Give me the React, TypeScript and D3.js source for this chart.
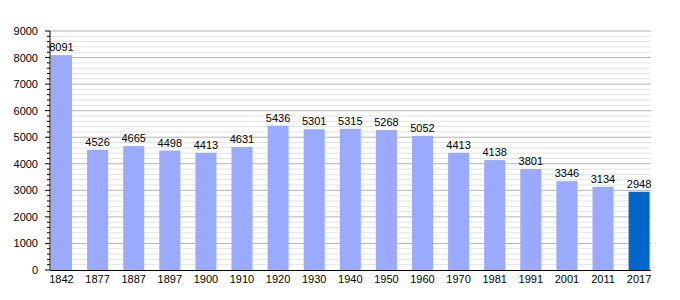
import React from "react";
import * as d3 from "d3";

const years = ["1842","1877","1887","1897","1900","1910","1920","1930","1940","1950","1960","1970","1981","1991","2001","2011","2017"];
const population = [8091,4526,4665,4498,4413,4631,5436,5301,5315,5268,5052,4413,4138,3801,3346,3134,2948];
const yTicks = [0,1000,2000,3000,4000,5000,6000,7000,8000,9000];

const W = 680, H = 300;
const left = 50, right = 651, top = 31, bottom = 270;

export default function App() {
  const x = d3.scaleBand<string>().domain(years).range([51, 649.6]).paddingInner(0.418).paddingOuter(0);
  const y = d3.scaleLinear().domain([0, 9000]).range([bottom, top]);
  const minor = d3.range(0, 9001, 200).filter(v => v % 1000 !== 0);
  const font = "'Liberation Sans', Arial, sans-serif";
  return (
    <svg width={W} height={H} style={{ position: "absolute", left: 0, top: 0 }} fontFamily={font}>
      <rect width={W} height={H} fill="#fff" />
      {minor.map(v => (
        <g key={"m" + v}>
          <line x1={left} x2={right} y1={y(v)} y2={y(v)} stroke="#e2e2e2" />
          <line x1={47} x2={left} y1={y(v)} y2={y(v)} stroke="#000" />
        </g>
      ))}
      {yTicks.map(v => (
        <g key={"t" + v}>
          {v > 0 && <line x1={left} x2={right} y1={y(v)} y2={y(v)} stroke="#b4b4b4" />}
          <line x1={45} x2={left} y1={y(v)} y2={y(v)} stroke="#000" />
          <text x={38} y={y(v) + 4} textAnchor="end" fontSize={11} fill="#000">{v}</text>
        </g>
      ))}
      {years.map((yr, i) => (
        <g key={yr}>
          <rect x={x(yr)} y={y(population[i])} width={x.bandwidth()} height={bottom - y(population[i])}
            fill={i === years.length - 1 ? "#0066cc" : "#99aaff"} />
          <text x={(x(yr) as number) + x.bandwidth() / 2} y={y(population[i]) - 4} textAnchor="middle" fontSize={11} fill="#000">{population[i]}</text>
          <text x={(x(yr) as number) + x.bandwidth() / 2} y={283} textAnchor="middle" fontSize={11} fill="#000">{yr}</text>
        </g>
      ))}
      <line x1={left} x2={left} y1={top} y2={bottom} stroke="#000" />
      <line x1={left} x2={right} y1={bottom + 0.5} y2={bottom + 0.5} stroke="#000" />
    </svg>
  );
}
